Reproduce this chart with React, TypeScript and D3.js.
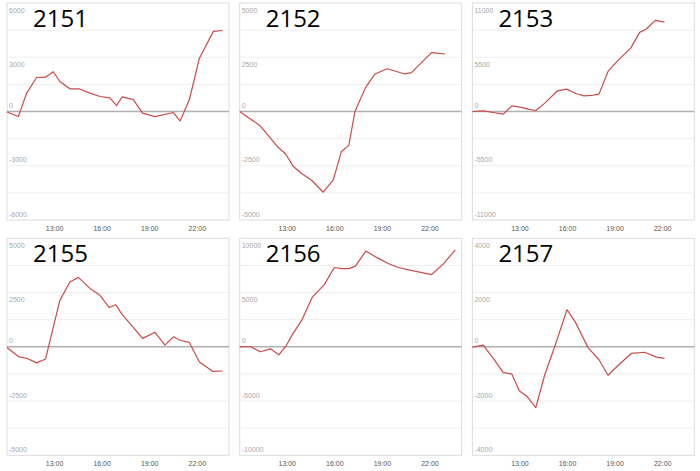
import { useEffect, useRef } from 'react';
import * as d3 from 'd3';

// panel titles and the symmetric y range of each panel
const panelNames = ["2151", "2152", "2153", "2155", "2156", "2157"];
const yMax = [6000, 5000, 11000, 5000, 10000, 4000];
const xTicks = ["13:00", "16:00", "19:00", "22:00"];

type Pt = [string, number];

const s2151: Pt[] = [
  ["10:00", -30], ["10:43", -280], ["11:14", 1000], ["11:52", 1880], ["12:26", 1900],
  ["12:55", 2200], ["13:20", 1660], ["13:58", 1255], ["14:32", 1255], ["15:14", 1015],
  ["15:52", 830], ["16:29", 756], ["16:55", 330], ["17:16", 810], ["17:58", 660],
  ["18:33", -90], ["19:20", -280], ["20:29", -55], ["20:55", -520], ["21:30", 650],
  ["22:08", 2950], ["23:01", 4430], ["23:36", 4480],
];

const s2152: Pt[] = [
  ["10:00", 0], ["10:38", -320], ["11:16", -640], ["11:54", -1190], ["12:25", -1650],
  ["12:54", -1960], ["13:22", -2520], ["13:54", -2860], ["14:32", -3170], ["15:16", -3720],
  ["15:54", -3150], ["16:25", -1840], ["16:53", -1560], ["17:16", 0], ["17:56", 1100],
  ["18:32", 1730], ["19:18", 1970], ["20:25", 1730], ["20:50", 1790], ["22:06", 2710],
  ["22:57", 2650],
];

const s2153: Pt[] = [
  ["10:00", 0], ["10:41", 70], ["11:19", -100], ["11:57", -270], ["12:29", 575],
  ["13:00", 440], ["13:31", 240], ["14:00", 100], ["14:34", 850], ["15:22", 2100],
  ["15:56", 2270], ["16:34", 1800], ["17:02", 1590], ["17:31", 1625], ["17:59", 1760],
  ["18:33", 4060], ["19:11", 5180], ["19:59", 6430], ["20:33", 8020], ["20:58", 8360],
  ["21:32", 9240], ["22:07", 9070],
];

const s2155: Pt[] = [
  ["10:00", -30], ["10:43", -450], ["11:17", -540], ["11:52", -740], ["12:26", -560],
  ["12:55", 900], ["13:20", 2140], ["13:58", 2990], ["14:30", 3200], ["15:17", 2660],
  ["15:52", 2370], ["16:27", 1810], ["16:52", 1935], ["17:14", 1520], ["17:52", 980],
  ["18:33", 390], ["19:20", 670], ["19:58", 80], ["20:29", 460], ["20:57", 290],
  ["21:30", 200], ["22:08", -700], ["22:58", -1130], ["23:36", -1115],
];

const s2156: Pt[] = [
  ["10:00", 0], ["10:40", 30], ["11:18", -460], ["11:56", -190], ["12:28", -740],
  ["12:54", 30], ["13:22", 1240], ["13:54", 2410], ["14:35", 4580], ["15:20", 5730],
  ["15:58", 7310], ["16:25", 7210], ["16:54", 7210], ["17:18", 7430], ["17:57", 8820],
  ["18:38", 8240], ["19:22", 7680], ["20:00", 7310], ["20:44", 7060], ["22:06", 6660],
  ["22:50", 7620], ["23:35", 8920],
];

const s2157: Pt[] = [
  ["10:00", -10], ["10:41", 60], ["11:19", -430], ["11:57", -950], ["12:29", -1000],
  ["12:58", -1630], ["13:25", -1810], ["14:00", -2240], ["14:34", -1020], ["15:12", 20],
  ["15:58", 1370], ["16:30", 900], ["17:18", -40], ["17:58", -460], ["18:33", -1050],
  ["19:13", -670], ["20:01", -245], ["20:52", -200], ["21:36", -380], ["22:07", -430],
];

const seriesList = [s2151, s2152, s2153, s2155, s2156, s2157];

const hours = (t: string) => {
  const [h, m] = t.split(":").map(Number);
  return h + m / 60;
};

export default function App() {
  const svgRef = useRef<SVGSVGElement | null>(null);

  useEffect(() => {
    if (!svgRef.current) return;
    const width = 700, height = 471;
    const svg = d3.select(svgRef.current);
    svg.selectAll("*").remove();
    svg.attr("width", width).attr("height", height);

    const plotW = 222, plotH = 217;
    const colStep = 232.7, rowStep = 235.3;
    const left0 = 7, top0 = 3;

    seriesList.forEach((series, i) => {
      const col = i % 3, row = Math.floor(i / 3);
      const x0 = left0 + col * colStep;
      const y0 = top0 + row * rowStep;
      const g = svg.append("g").attr("transform", `translate(${x0},${y0})`);

      const x = d3.scaleLinear().domain([10, 24]).range([0, plotW]);
      const m = yMax[i];
      const y = d3.scaleLinear().domain([-m, m]).range([plotH, 0]);

      // background + horizontal grid every eighth of the range
      g.append("rect")
        .attr("width", plotW).attr("height", plotH)
        .attr("fill", "#fff");

      const grid = d3.range(-m, m + 1, m / 4);
      g.selectAll(".grid")
        .data(grid.filter(v => v !== 0 && Math.abs(v) !== m))
        .enter()
        .append("line")
        .attr("x1", 0).attr("x2", plotW)
        .attr("y1", d => y(d)).attr("y2", d => y(d))
        .style("stroke", "#eeeeee")
        .style("stroke-width", 1);

      g.append("rect")
        .attr("width", plotW).attr("height", plotH)
        .attr("fill", "none")
        .style("stroke", "#dcdcdc")
        .style("stroke-width", 1);

      // zero line
      g.append("line")
        .attr("x1", 0).attr("x2", plotW)
        .attr("y1", y(0)).attr("y2", y(0))
        .style("stroke", "#b0b0b0")
        .style("stroke-width", 1.5);

      // y labels inside the plot
      const yLabels = [m, m / 2, 0, -m / 2, -m];
      g.selectAll(".ylab")
        .data(yLabels)
        .enter()
        .append("text")
        .attr("x", 2)
        .attr("y", d => d > 0 ? y(d) + 9.5 : y(d) - 3.5)
        .text(d => String(d))
        .style("font-family", "Liberation Sans, Arial, sans-serif")
        .style("font-size", "7px")
        .style("fill", "#a8a8a8");

      // x labels
      g.selectAll(".xlab")
        .data(xTicks)
        .enter()
        .append("text")
        .attr("x", d => x(hours(d)))
        .attr("y", plotH + 10.5)
        .attr("text-anchor", "middle")
        .text(d => d)
        .style("font-family", "Liberation Sans, Arial, sans-serif")
        .style("font-size", "7px")
        .style("fill", "#555");

      const line = d3.line<Pt>()
        .x(d => x(hours(d[0])))
        .y(d => y(d[1]));

      g.append("path")
        .attr("d", line(series))
        .style("fill", "none")
        .style("stroke", "#c94b4b")
        .style("stroke-width", 1.2)
        .style("stroke-linejoin", "round");

      g.append("text")
        .attr("x", 26)
        .attr("y", 24)
        .text(panelNames[i])
        .style("font-family", "Open Sans, sans-serif")
        .style("font-size", "24px")
        .style("fill", "#000");
    });
  }, []);

  return (
    <div style={{ position: "absolute", left: 0, top: 0, background: "#fff" }}>
      <svg ref={svgRef} style={{ display: "block" }}></svg>
    </div>
  );
}
